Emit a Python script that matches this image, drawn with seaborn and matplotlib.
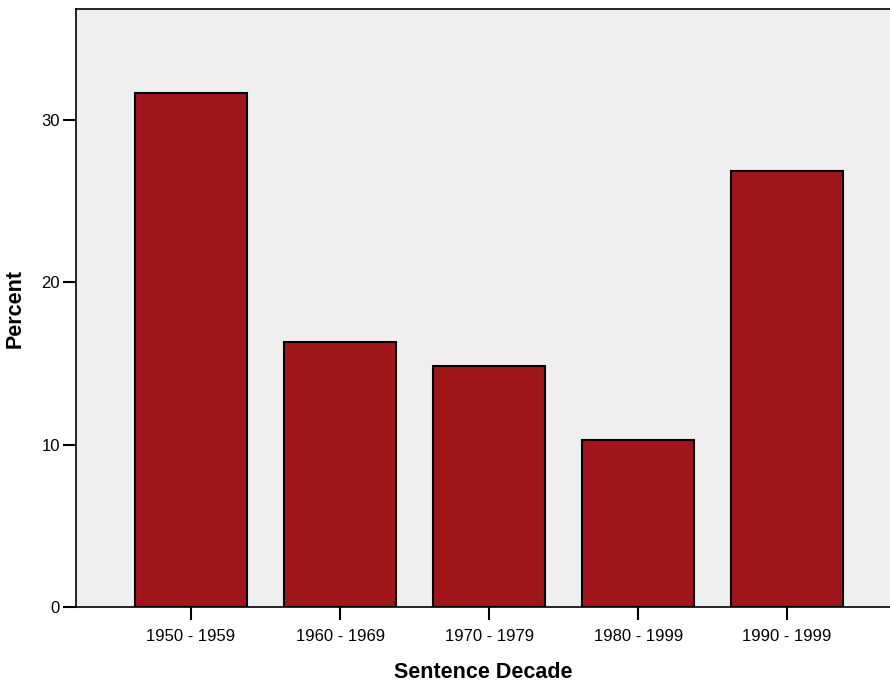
import pandas as pd
import seaborn as sns
import matplotlib.pyplot as plt

decades = ["1950 - 1959", "1960 - 1969", "1970 - 1979", "1980 - 1999", "1990 - 1999"]
percent = [31.67, 16.32, 14.82, 10.27, 26.86]
yticks = [0, 10, 20, 30]

df = pd.DataFrame({"decade": decades, "percent": percent})

sns.set_style("white")
plt.rcParams["font.family"] = ["Liberation Sans", "DejaVu Sans"]
plt.rcParams["text.color"] = "black"
plt.rcParams["axes.labelcolor"] = "black"
plt.rcParams["xtick.color"] = "black"
plt.rcParams["ytick.color"] = "black"

fig = plt.figure(figsize=(8.9, 6.84), dpi=100)
ax = fig.add_axes([76 / 890, 77 / 684, 1 - 76 / 890, 598 / 684])
ax.set_facecolor("#efefef")

sns.barplot(data=df, x="decade", y="percent", color="#a1161a", saturation=1,
            width=0.75, edgecolor="black", linewidth=1.5, ax=ax)

ax.set_xlim(-0.772, 4.69)
ax.set_ylim(0, 36.82)
ax.set_yticks(yticks)

for side in ["left", "top", "bottom"]:
    ax.spines[side].set_visible(True)
    ax.spines[side].set_color("black")
    ax.spines[side].set_linewidth(1.2)
ax.spines["right"].set_visible(False)

ax.tick_params(axis="y", direction="out", length=9.5, width=1.5, pad=2,
               labelsize=12, left=True)
ax.tick_params(axis="x", direction="out", length=9.5, width=1.5, pad=6,
               labelsize=12, bottom=True)

ax.set_xlabel("Sentence Decade", fontsize=15.5, fontweight="bold", labelpad=13)
ax.set_ylabel("Percent", fontsize=15.5, fontweight="bold", labelpad=11)

fig.savefig("out.png", dpi=100)
plt.close()
